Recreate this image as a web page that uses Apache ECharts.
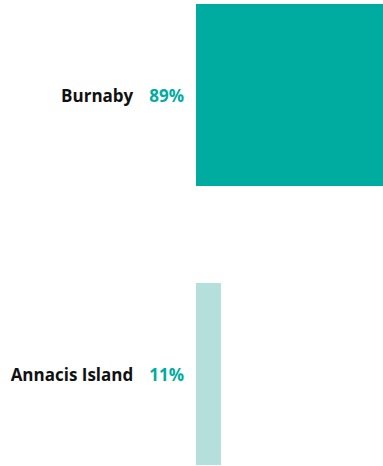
<!DOCTYPE html>
<html>
<head>
<meta charset="utf-8">
<script src="https://cdn.jsdelivr.net/npm/echarts@6/dist/echarts.min.js"></script>
<style>
  html, body { margin: 0; padding: 0; background: #fff; }
  #chart { width: 383px; height: 466px; }
</style>
</head>
<body>
<div id="chart"></div>
<script>
// values
const sites = ['Burnaby', 'Annacis Island'];
const shares = [89, 11];
const barColors = ['#00ACA0', '#B5DFDA'];

const chart = echarts.init(document.getElementById('chart'), null, { renderer: 'svg' });

chart.setOption({
    animation: false,
    grid: { left: 196, top: -44.5, width: 227, height: 558, outerBoundsMode: 'none' },
    xAxis: {
        type: 'value', min: 0, max: 100,
        show: false
    },
    yAxis: {
        type: 'category',
        data: sites,
        inverse: true,
        axisLine: { show: false },
        axisTick: { show: false },
        axisLabel: {
            margin: 12,
            formatter: (name, i) => `{name|${name}}{val|${shares[i]}%}`,
            rich: {
                name: { fontFamily: 'Open Sans', fontWeight: 'bold', fontSize: 17, color: '#111' },
                val: { fontFamily: 'Open Sans', fontWeight: 'bold', fontSize: 17, color: '#00ACA0', padding: [0, 0, 0, 16] }
            }
        }
    },
    series: [{
        type: 'bar',
        barWidth: 182,
        data: shares.map((v, i) => ({ value: v, itemStyle: { color: barColors[i] } }))
    }]
});
</script>
</body>
</html>
